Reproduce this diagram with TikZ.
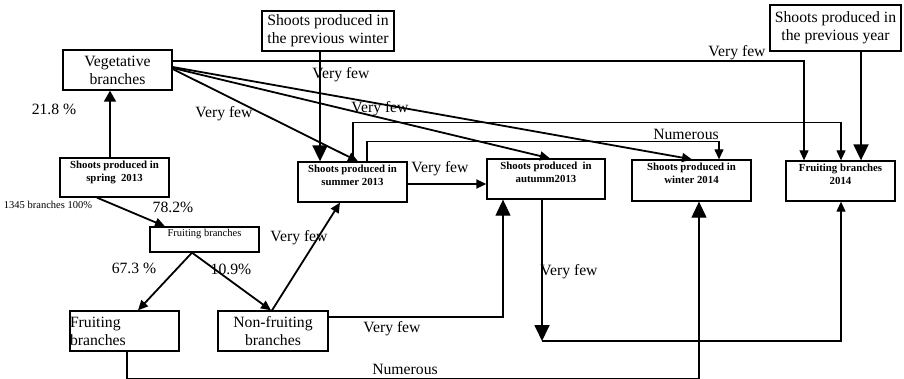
\documentclass[tikz,border=0pt]{standalone}
\usepackage{fontspec}
\setmainfont{Liberation Serif}
\usetikzlibrary{arrows.meta}
\newcommand{\FBig}{\fontsize{15.7}{18}\selectfont}
\newcommand{\FBold}{\fontsize{10.8}{13}\selectfont\bfseries}
\newcommand{\FSmall}{\fontsize{10.5}{12.6}\selectfont}
\newcommand{\BoxC}[3]{\parbox[c][#2][c]{#1}{\centering\FBig #3}}
\newcommand{\BoxB}[3]{\parbox[c][#2][t]{#1}{\centering\FBold\rule{0pt}{10.5pt}#3}}
\begin{document}
\begin{tikzpicture}[x=1pt,y=-1pt,
  box/.style={draw,line width=1.3pt,inner sep=0pt},
  ln/.style={line width=1.8pt},
  thn/.style={line width=1.1pt},
  aS/.style={-{Triangle[length=10pt,width=9pt]}},
  aM/.style={-{Triangle[length=11pt,width=12pt]}},
  aL/.style={-{Triangle[length=16pt,width=15pt]}},
  lab/.style={font=\FBig,anchor=base,inner sep=0pt},
  slab/.style={font=\FSmall,anchor=base,inner sep=0pt}]
\useasboundingbox (0,0) rectangle (904,379);
% boxes
\node[box] (pw) at (328,31) {\BoxC{132pt}{40pt}{Shoots produced in\\the previous winter}};
\node[box] (py) at (835.5,28) {\BoxC{131pt}{46pt}{Shoots produced in\\the previous year}};
\node[box] (veg) at (117.5,70) {\BoxC{109pt}{40pt}{Vegetative\\branches}};
\node[box] (spr) at (114.5,177.5) {\BoxB{109pt}{39pt}{Shoots produced in\\spring~ 2013}};
\node[box] (sum) at (352.5,182) {\BoxB{109pt}{40pt}{Shoots produced in\\summer 2013}};
\node[box] (aut) at (546,179) {\BoxB{118pt}{40pt}{Shoots produced~ in\\autumm2013}};
\node[box] (win) at (691.5,180.5) {\BoxB{119pt}{41pt}{Shoots produced in\\winter 2014}};
\node[box] (f14) at (840.5,181) {\BoxB{109pt}{40pt}{Fruiting branches\\2014}};
\node[box] (fsm) at (204.5,239.5) {\parbox[c][25pt][t]{109pt}{\centering\FSmall\rule{0pt}{9.5pt}Fruiting branches}};
\node[box] (fb) at (124.5,331) {\parbox[c][40pt][c]{109pt}{\raggedright\FBig Fruiting\\branches}};
\node[box] (nf) at (273,331) {\BoxC{110pt}{40pt}{Non-fruiting\\branches}};
% connectors
\draw[ln,aM] ([xshift=-4.5pt]spr.north) -- ([xshift=-7.5pt]veg.south);
\draw[ln,aS] ([xshift=-17.5pt]spr.south) -- ([xshift=-39.5pt]fsm.north);
\draw[ln,aS] ([xshift=-12.5pt]fsm.south) -- ([xshift=13.5pt]fb.north);
\draw[ln,aS] ([xshift=-12.5pt]fsm.south) -- ([xshift=-2pt]nf.north);
\draw[ln,aS] ([xshift=-1pt]nf.north) -- ([xshift=-12.5pt]sum.south);
\draw[thn,aL] ([xshift=2.5pt]fb.south) -- ++(0,27) -| ([xshift=7.5pt]win.south);
\draw[thn,aL] ([yshift=14pt]nf.east) -| ([xshift=-43pt]aut.south);
\coordinate (ca) at (542,341);
\draw[ln,aL] ([xshift=-4pt]aut.south) -- (ca);
\draw[thn,aS] (ca) -| ([xshift=0.5pt]f14.south);
\draw[ln,aS] ([yshift=-2pt]sum.east) -- ([yshift=-5pt]aut.west);
\draw[thn,aS] ([xshift=14.5pt]sum.north) -- ++(0,-20) -| ([xshift=27.5pt]win.north);
\draw[thn,aS] ([xshift=0.5pt]sum.north) -- ++(0,-39) -| ([xshift=0.5pt]f14.north);
\draw[ln,aL] ([xshift=-8pt]pw.south) -- ([xshift=-32.5pt]sum.north);
\draw[ln,aL] ([xshift=25.5pt]py.south) -- ([xshift=20.5pt]f14.north);
\draw[thn,aS] ([yshift=9pt]veg.east) -| ([xshift=-36.5pt]f14.north);
\draw[ln,aS] ([yshift=1pt]veg.east) -- ([xshift=5.5pt]sum.north);
\draw[ln,aS] ([yshift=2pt]veg.east) -- ([xshift=4pt]aut.north);
\draw[ln,aS] ([yshift=3pt]veg.east) -- ([xshift=0.5pt]win.north);
% labels
\node[lab] (t1) at (341,79) {Very few};
\node[lab] (t2) at (224,118) {Very few};
\node[lab] (t3) at (380,113) {Very few};
\node[lab] (t4) at (737,57) {Very few};
\node[lab] (t5) at (686,140) {Numerous};
\node[lab] (t6) at (440,173) {Very few};
\node[lab] (t7) at (569,275) {Very few};
\node[lab] (t8) at (299,242) {Very few};
\node[lab] (t9) at (392,332) {Very few};
\node[lab] (t10) at (405,374) {Numerous};
\node[lab] (p1) at (54,115) {21.8 \%};
\node[lab] (p2) at (173,213) {78.2\%};
\node[lab] (p3) at (134,273) {67.3 \%};
\node[lab] (p4) at (231,274) {10.9\%};
\node[slab] (p5) at (48,208.5) {1345 branches 100\%};
\end{tikzpicture}
\end{document}
